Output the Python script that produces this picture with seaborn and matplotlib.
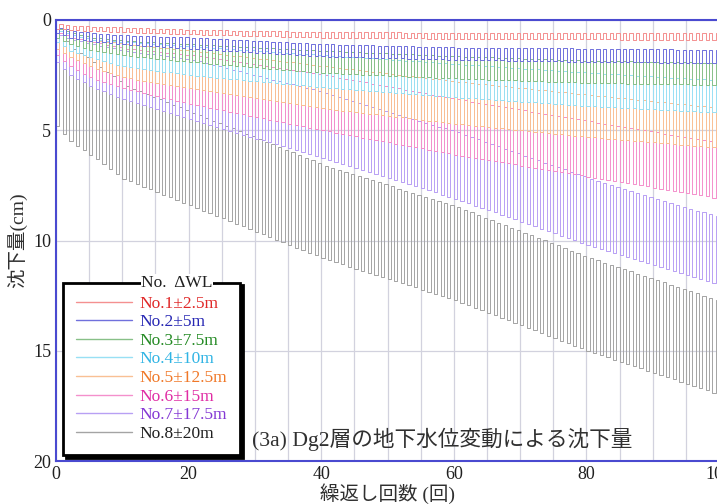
import numpy as np
import pandas as pd
import matplotlib
matplotlib.use("Agg")
import matplotlib.pyplot as plt
import seaborn as sns
from matplotlib.lines import Line2D
from matplotlib.ticker import MultipleLocator

# ---------------- data ----------------
n_cycles = 100
checkpoints = [0, 2, 5, 10, 20, 40, 60, 80, 100]   # cycle numbers where envelopes were read

labels = ["No.1\u00b12.5m", "No.2\u00b15m", "No.3\u00b17.5m", "No.4\u00b110m",
          "No.5\u00b112.5m", "No.6\u00b115m", "No.7\u00b117.5m", "No.8\u00b120m"]

# settlement (cm) after recovery (upper envelope) and at drawdown (lower envelope)
upper_1 = [0.20, 0.25, 0.30, 0.35, 0.45, 0.55, 0.58, 0.60, 0.60]
lower_1 = [0.40, 0.45, 0.50, 0.55, 0.65, 0.80, 0.85, 0.88, 0.90]
upper_2 = [0.35, 0.50, 0.60, 0.70, 0.80, 1.10, 1.25, 1.30, 1.36]
lower_2 = [0.60, 0.80, 0.95, 1.10, 1.30, 1.65, 1.80, 1.90, 1.95]
upper_3 = [0.40, 0.60, 0.80, 0.95, 1.10, 1.40, 1.65, 1.85, 1.95]
lower_3 = [0.80, 1.10, 1.35, 1.60, 1.90, 2.40, 2.65, 2.85, 2.95]
upper_4 = [0.50, 0.70, 0.90, 1.00, 1.20, 1.60, 2.00, 2.40, 2.75]
lower_4 = [1.00, 1.40, 1.70, 2.10, 2.50, 3.05, 3.50, 3.90, 4.20]
upper_5 = [0.50, 0.70, 0.90, 1.10, 1.40, 2.10, 2.80, 3.40, 4.00]
lower_5 = [1.30, 1.70, 2.10, 2.60, 3.10, 4.00, 4.70, 5.30, 5.80]
upper_6 = [0.60, 0.80, 1.00, 1.30, 1.60, 2.50, 3.60, 4.60, 5.60]
lower_6 = [1.60, 2.10, 2.60, 3.10, 3.80, 5.00, 6.10, 7.10, 8.10]
upper_7 = [0.70, 0.90, 1.10, 1.40, 1.80, 3.30, 5.10, 7.20, 9.00]
lower_7 = [1.90, 2.50, 3.00, 3.60, 4.50, 6.25, 8.10, 10.20, 12.00]
upper_8 = [0.60, 1.30, 1.90, 3.00, 4.20, 6.60, 8.50, 10.80, 12.80]
lower_8 = [4.80, 5.50, 6.10, 7.20, 8.40, 10.80, 12.70, 15.00, 17.00]

uppers = [upper_1, upper_2, upper_3, upper_4, upper_5, upper_6, upper_7, upper_8]
lowers = [lower_1, lower_2, lower_3, lower_4, lower_5, lower_6, lower_7, lower_8]

line_colors = ["#f49090", "#7070dc", "#88c088", "#98e0f4",
               "#f9c094", "#f490cc", "#b8a0f4", "#a4a4a4"]
text_colors = ["#e02828", "#2828b4", "#248a24", "#30b4e4",
               "#f07828", "#e02ca4", "#8438d4", "#202020"]

# ---------------- build square-wave series ----------------
frames = []
cyc = np.arange(n_cycles)
for k in range(8):
    L = np.interp(cyc, checkpoints, lowers[k])
    U = np.interp(cyc, checkpoints, uppers[k])
    xs, ys = [0.0], [0.0]
    for i in range(n_cycles):
        xs += [i, i + 0.5, i + 0.5, i + 1.0]
        ys += [L[i], L[i], U[i], U[i]]
    frames.append(pd.DataFrame({"x": xs, "y": ys, "series": labels[k]}))

# ---------------- figure ----------------
sns.set_style("white")
plt.rcParams["font.family"] = ["Liberation Serif", "Noto Sans CJK JP"]

fig = plt.figure(figsize=(7.17, 5.04), dpi=100)
ax = fig.add_axes([56 / 717, 43 / 504, 663 / 717, 441 / 504])

for k in reversed(range(8)):
    sns.lineplot(data=frames[k], x="x", y="y", sort=False, estimator=None,
                 color=line_colors[k], lw=0.7, ax=ax, legend=False)

ax.set_xlim(0, 100)
ax.set_ylim(20, 0)

spine_col = "#4a4ad0"
for s in ax.spines.values():
    s.set_color(spine_col)
    s.set_linewidth(1.5)

ax.xaxis.set_major_locator(MultipleLocator(20))
ax.xaxis.set_minor_locator(MultipleLocator(5))
ax.yaxis.set_major_locator(MultipleLocator(5))
ax.yaxis.set_minor_locator(MultipleLocator(1))
ax.tick_params(which="both", direction="in", color=spine_col, labelsize=13,
               labelcolor="#202020")
ax.tick_params(which="major", length=6, width=1)
ax.tick_params(which="minor", length=4, width=0.8)

ax.grid(True, which="minor", axis="x", color="#d2d2de", lw=0.9)
ax.grid(True, which="major", axis="x", color="#d2d2de", lw=0.9)
ax.grid(True, which="major", axis="y", color="#d2d2de", lw=0.9)
ax.set_axisbelow(True)

ax.set_xlabel("繰返し回数 (回)", fontsize=14, color="#303030", labelpad=0)
ax.set_ylabel("沈下量(cm)", fontsize=14, color="#303030", labelpad=4)

ax.text(0.296, 0.048, "(3a) Dg2層の地下水位変動による沈下量", transform=ax.transAxes,
        fontsize=15.6, color="#303030", ha="left", va="center")

handles = [Line2D([], [], color=line_colors[k], lw=1.0) for k in range(8)]
leg = ax.legend(handles, labels, loc="lower left", bbox_to_anchor=(0.011, 0.014),
                borderaxespad=0, fontsize=12.5, frameon=True, fancybox=False,
                handlelength=3.2, handletextpad=0.45, labelspacing=0.14,
                borderpad=0.75, shadow={"color": "black", "alpha": 1.0})
leg.get_frame().set_edgecolor("black")
leg.get_frame().set_linewidth(2.0)
for t, c in zip(leg.get_texts(), text_colors):
    t.set_color(c)

fig.canvas.draw()
bb = leg.get_window_extent().transformed(ax.transAxes.inverted())
ax.text(bb.x0 + 0.113 * 663 / 663 + (135 + 218) / 2 / 663 - 63 / 663 - 0.113,
        bb.y1, "No.  \u0394WL", transform=ax.transAxes, fontsize=12.5,
        color="#202020", ha="center", va="center", zorder=10,
        bbox=dict(facecolor="white", edgecolor="none", pad=0.3))

fig.savefig("out.png", dpi=100)
